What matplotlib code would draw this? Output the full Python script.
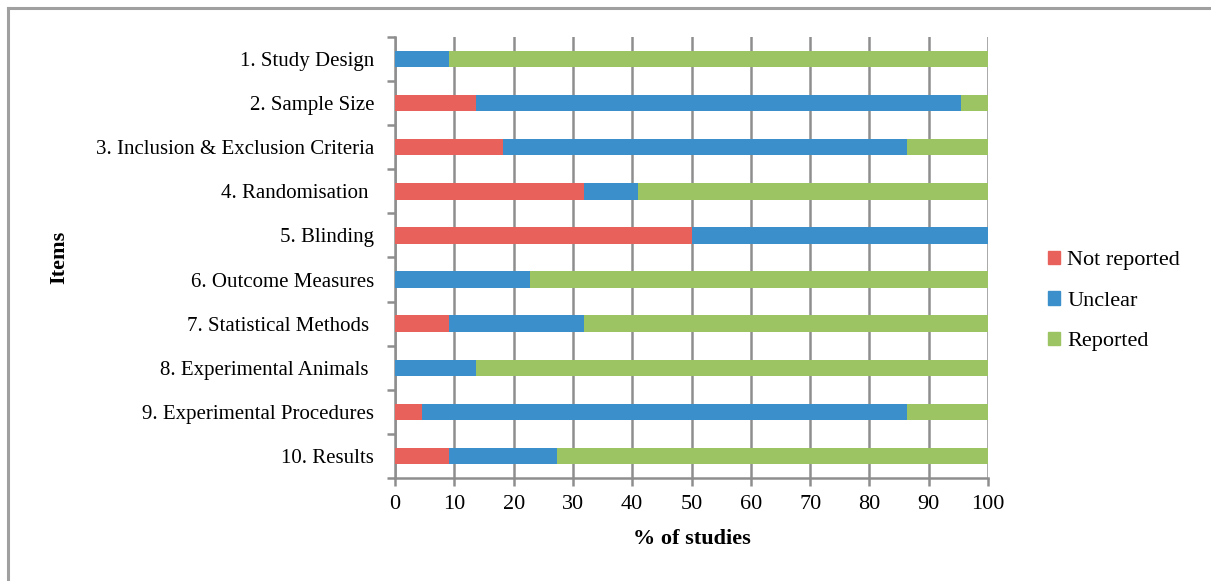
import matplotlib
matplotlib.use("Agg")
import matplotlib.pyplot as plt
from matplotlib.lines import Line2D
from matplotlib.patches import Patch
import numpy as np

plt.rcParams["font.family"] = ["Liberation Serif", "DejaVu Serif"]

items = ["1. Study Design", "2. Sample Size", "3. Inclusion & Exclusion Criteria",
         "4. Randomisation ", "5. Blinding", "6. Outcome Measures",
         "7. Statistical Methods ", "8. Experimental Animals ",
         "9. Experimental Procedures", "10. Results"]
# % of 22 studies per item
not_reported = [0.0, 13.6, 18.2, 31.8, 50.0, 0.0, 9.1, 0.0, 4.5, 9.1]
unclear = [9.1, 81.9, 68.2, 9.1, 50.0, 22.7, 22.7, 13.6, 81.9, 18.2]
reported = [90.9, 4.5, 13.6, 59.1, 0.0, 77.3, 68.2, 86.4, 13.6, 72.7]

RED, BLUE, GREEN = "#E8625B", "#3B8FCB", "#9DC462"
GRID = "#8E8E8E"
FS = 15

fig = plt.figure(figsize=(12.11, 5.81), dpi=100)
ax = fig.add_axes([0.3262, 0.1773, 0.4897, 0.759])

y = np.arange(len(items))
nr = np.array(not_reported)
un = np.array(unclear)
rp = np.array(reported)
h = 0.37
ax.barh(y, nr, height=h, color=RED, zorder=3, label="Not reported")
ax.barh(y, un, left=nr, height=h, color=BLUE, zorder=3, label="Unclear")
ax.barh(y, rp, left=nr + un, height=h, color=GREEN, zorder=3, label="Reported")

ax.set_xlim(0, 100)
ax.set_ylim(len(items) - 0.5, -0.5)
ax.set_xticks(range(0, 101, 10))
ax.tick_params(axis="x", labelsize=16, length=6, width=1.8, color=GRID, pad=6)
ax.set_yticks(y)
ax.set_yticklabels(items, fontsize=FS)
ax.tick_params(axis="y", length=0, pad=15)
# category separators as minor ticks on the y axis
ax.set_yticks(np.arange(-0.5, len(items)), minor=True)
ax.tick_params(axis="y", which="minor", length=6, width=1.8, color=GRID)

ax.grid(axis="x", color=GRID, linewidth=1.8, zorder=0)
for s in ["top", "right"]:
    ax.spines[s].set_visible(False)
for s in ["left", "bottom"]:
    ax.spines[s].set_color(GRID)
    ax.spines[s].set_linewidth(1.8)

ax.set_xlabel("% of studies", fontsize=16, fontweight="bold", labelpad=11)
ax.set_ylabel("Items", fontsize=16, fontweight="bold")
ax.yaxis.set_label_coords(-0.55, 0.5)

handles = [Patch(color=RED), Patch(color=BLUE), Patch(color=GREEN)]
fig.legend(handles, ["Not reported", "Unclear", "Reported"], loc="center left",
           bbox_to_anchor=(0.849, 0.482), frameon=False, fontsize=16,
           handlelength=0.55, handleheight=0.55, handletextpad=0.3, labelspacing=0.95)

# outer chart frame
fig.add_artist(Line2D([8 / 1211, 1.0], [1 - 8 / 581] * 2, color="#A0A0A0", lw=2.2,
                      transform=fig.transFigure))
fig.add_artist(Line2D([8 / 1211] * 2, [0.0, 1 - 8 / 581], color="#A0A0A0", lw=2.2,
                      transform=fig.transFigure))

fig.savefig("out.png", dpi=100)
